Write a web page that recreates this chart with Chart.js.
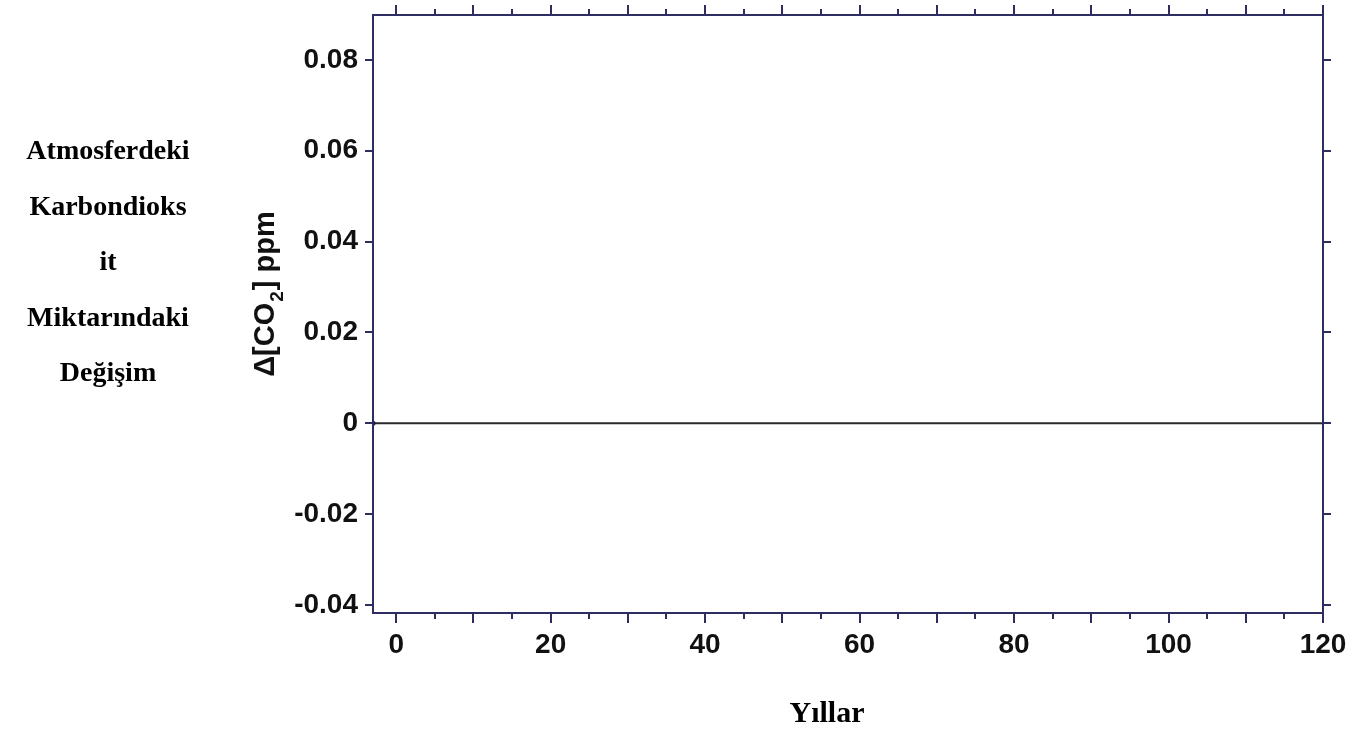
<!DOCTYPE html>
<html>
<head>
<meta charset="utf-8">
<script src="https://cdn.jsdelivr.net/npm/chart.js@4.4.1/dist/chart.umd.min.js"></script>
<style>
  html, body { margin: 0; padding: 0; background: #ffffff; }
  #wrap { position: relative; width: 1354px; height: 731px; }
  canvas { display: block; }
</style>
</head>
<body>
<div id="wrap"><canvas id="c" width="1354" height="731"></canvas></div>
<script>
// ---- data ----
const years = [-3, 0, 20, 40, 60, 80, 100, 120];
const deltaCO2 = [0, 0, 0, 0, 0, 0, 0, 0];
const xTickLabels = [0, 20, 40, 60, 80, 100, 120];
const yTickLabels = [-0.04, -0.02, 0, 0.02, 0.04, 0.06, 0.08];
const xMinorStep = 5;
const sideLabelLines = ['Atmosferdeki', 'Karbondioks', 'it', 'Miktarındaki', 'Değişim'];
const xTitle = 'Yıllar';
const yTitleParts = ['Δ[CO', '2', '] ppm'];

const AXIS = '#2d2d62';
const SANS = '"Liberation Sans", Arial, sans-serif';
const SERIF = '"Liberation Serif", "Times New Roman", serif';

const framePlugin = {
  id: 'frame',
  afterDraw(chart) {
    const { ctx, chartArea: a, scales } = chart;
    const xs = scales.x, ys = scales.y;
    ctx.save();
    ctx.strokeStyle = AXIS;
    ctx.lineWidth = 2;
    ctx.strokeRect(a.left, a.top, a.right - a.left, a.bottom - a.top);
    // x ticks (top & bottom), major every 10, minor every 5
    for (let v = 0; v <= 120; v += xMinorStep) {
      const px = Math.round(xs.getPixelForValue(v));
      const len = (v % 10 === 0) ? 10 : 6;
      ctx.beginPath();
      ctx.moveTo(px, a.bottom); ctx.lineTo(px, a.bottom + len);
      ctx.moveTo(px, a.top); ctx.lineTo(px, a.top - len);
      ctx.stroke();
    }
    // y ticks left & right
    yTickLabels.forEach(v => {
      const py = Math.round(ys.getPixelForValue(v));
      ctx.beginPath();
      ctx.moveTo(a.left, py); ctx.lineTo(a.left - 8, py);
      ctx.moveTo(a.right, py); ctx.lineTo(a.right + 8, py);
      ctx.stroke();
    });
    // y title with subscript
    ctx.fillStyle = '#111';
    ctx.translate(266, 295);
    ctx.rotate(-Math.PI / 2);
    const big = 'bold 29px ' + SANS;
    const small = 'bold 19px ' + SANS;
    ctx.font = big;
    const w1 = ctx.measureText(yTitleParts[0]).width;
    const w3 = ctx.measureText(yTitleParts[2]).width;
    ctx.font = small;
    const w2 = ctx.measureText(yTitleParts[1]).width;
    const total = w1 + w2 + w3;
    const x0 = -total / 2;
    ctx.textBaseline = 'middle';
    ctx.textAlign = 'left';
    ctx.font = big; ctx.fillText(yTitleParts[0], x0, 0);
    ctx.font = small; ctx.fillText(yTitleParts[1], x0 + w1 + 1, 12);
    ctx.font = big; ctx.fillText(yTitleParts[2], x0 + w1 + w2 + 2, 0);
    ctx.restore();

    // side labels & x title
    ctx.save();
    ctx.fillStyle = '#000';
    ctx.textAlign = 'center';
    ctx.textBaseline = 'alphabetic';
    ctx.font = 'bold 28px ' + SERIF;
    sideLabelLines.forEach((t, i) => ctx.fillText(t, 108, 159 + i * 55.5));
    ctx.font = 'bold 30px ' + SERIF;
    ctx.fillText(xTitle, 827, 722);
    ctx.restore();
  }
};

new Chart(document.getElementById('c'), {
  type: 'line',
  data: {
    datasets: [{
      data: years.map((x, i) => ({ x, y: deltaCO2[i] })),
      borderColor: '#2a2a2a',
      borderWidth: 2,
      pointRadius: ctx => (ctx.dataIndex === 0 ? 2.5 : 0),
      pointBackgroundColor: '#1a1a4a',
      pointBorderWidth: 0,
      fill: false,
      tension: 0
    }]
  },
  options: {
    responsive: false,
    animation: false,
    events: [],
    layout: { padding: { left: 0, top: 15, right: 31, bottom: 0 } },
    plugins: { legend: { display: false }, tooltip: { enabled: false } },
    scales: {
      x: {
        type: 'linear',
        min: -3,
        max: 120,
        afterBuildTicks: s => { s.ticks = xTickLabels.map(v => ({ value: v })); },
        afterFit: s => { s.height = 118; s.paddingLeft = 0; s.paddingRight = 0; },
        grid: { display: false, drawTicks: false },
        border: { display: false },
        ticks: { padding: 15, color: '#111', font: { family: SANS, size: 28, weight: 'bold' }, maxRotation: 0 }
      },
      y: {
        type: 'linear',
        min: -0.0418,
        max: 0.0899,
        afterBuildTicks: s => { s.ticks = yTickLabels.map(v => ({ value: v })); },
        afterFit: s => { s.width = 373; s.paddingTop = 0; s.paddingBottom = 0; },
        grid: { display: false, drawTicks: false },
        border: { display: false },
        ticks: {
          padding: 15, color: '#111',
          font: { family: SANS, size: 28, weight: 'bold' },
          callback: v => (Math.abs(v) < 1e-9 ? '0' : v.toFixed(2))
        }
      }
    }
  },
  plugins: [framePlugin]
});
</script>
</body>
</html>
